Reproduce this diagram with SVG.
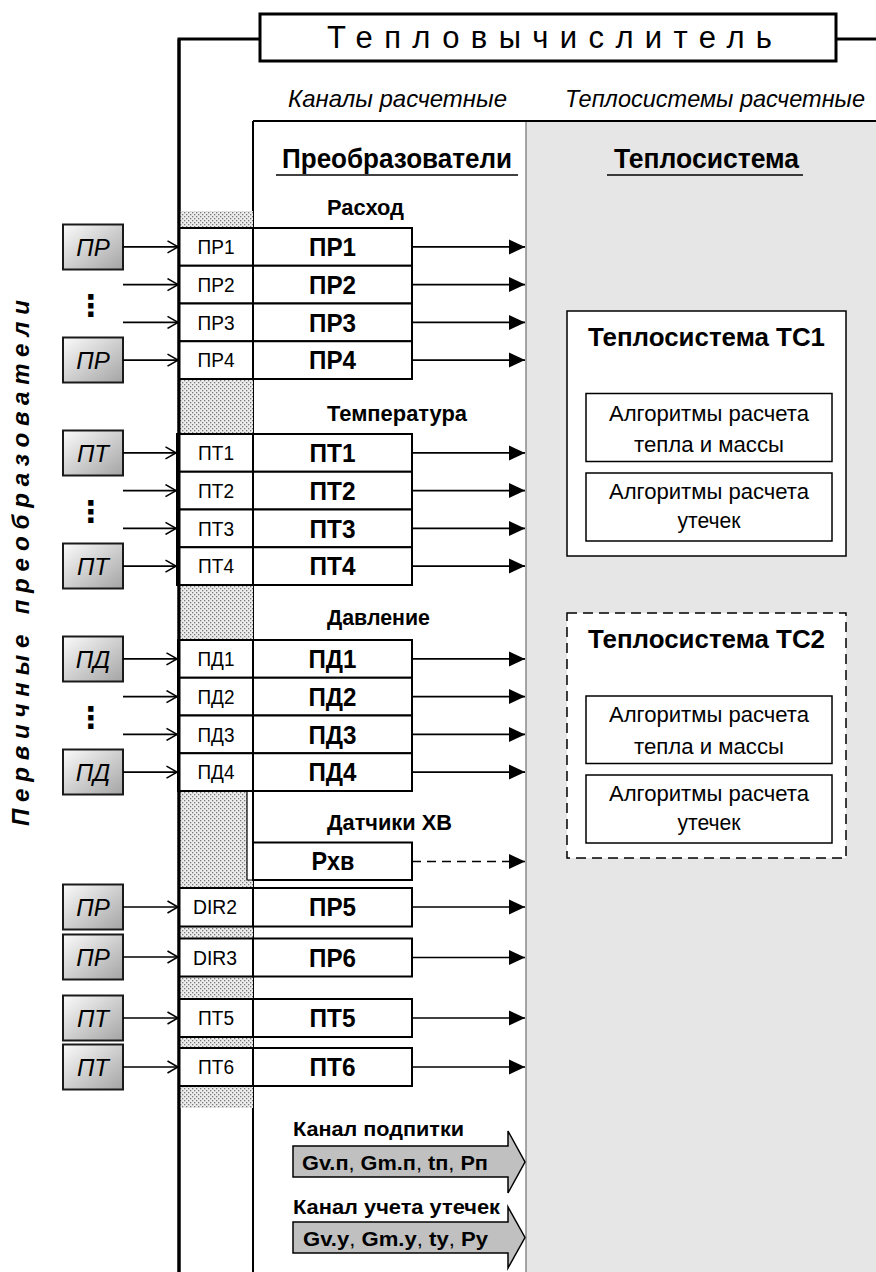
<svg xmlns="http://www.w3.org/2000/svg" width="876" height="1272" viewBox="0 0 876 1272">
<style>
text{font-family:"Liberation Sans",Arial,sans-serif;fill:#000}
.ttl{font-size:31px}
.it{font-style:italic;font-size:24px}
.hd{font-weight:bold;font-size:27px}
.sec{font-weight:bold;font-size:22px}
.big{font-weight:bold;font-size:25px}
.sm{font-size:20px}
.sen{font-style:italic;font-size:24px}
.tc{font-weight:bold;font-size:26px}
.alg{font-size:22px}
.ch{font-weight:bold;font-size:21px}
.chv{font-weight:bold;font-size:21px}
.vt{font-weight:bold;font-style:italic;font-size:24px}
.dots{font-family:"DejaVu Sans",sans-serif;font-weight:bold;font-size:30px}
.cell{fill:#fff;stroke:#000;stroke-width:2}
.bx{fill:#fff;stroke:#000;stroke-width:2}
.sbox{fill:url(#sg);stroke:#1a1a1a;stroke-width:2}
.hat{fill:url(#hp)}
.in{stroke:#000;stroke-width:1.6;fill:none;marker-end:url(#oa)}
.out{stroke:#000;stroke-width:1.6;fill:none;marker-end:url(#fa)}
.thin{fill:#fff;stroke:#000;stroke-width:1.5}
.garr{fill:#c0c0c0;stroke:#000;stroke-width:1.5}
</style>
<defs>
<linearGradient id="sg" x1="0" y1="0" x2="1" y2="1">
<stop offset="0" stop-color="#fbfbfb"/>
<stop offset="1" stop-color="#a4a4a4"/>
</linearGradient>
<pattern id="hp" width="4" height="4" patternUnits="userSpaceOnUse">
<rect width="4" height="4" fill="#ececec"/>
<rect x="0" y="0" width="1.3" height="1.3" fill="#7a7a7a"/>
<rect x="2" y="2" width="1.3" height="1.3" fill="#7a7a7a"/>
</pattern>
<marker id="oa" viewBox="0 0 12 14" refX="11.5" refY="7" markerWidth="12" markerHeight="14" markerUnits="userSpaceOnUse" orient="auto">
<path d="M1,1 L11.5,7 L1,13" fill="none" stroke="#000" stroke-width="1.6"/>
</marker>
<marker id="fa" viewBox="0 0 16 16" refX="16" refY="8" markerWidth="16" markerHeight="16" markerUnits="userSpaceOnUse" orient="auto">
<path d="M0,0.5 L16,8 L0,15.5 Z" fill="#000"/>
</marker>
</defs>

<g id="frame">
<rect x="526" y="121" width="350" height="1151" fill="#e6e6e6"/>
<line x1="526" y1="121" x2="526" y2="1272" stroke="#8a8a8a" stroke-width="1.5"/>
<line x1="253" y1="121" x2="876" y2="121" stroke="#000" stroke-width="2"/>
<line x1="253" y1="121" x2="253" y2="1272" stroke="#000" stroke-width="2"/>
<polyline points="179,1272 179,39 260,39" fill="none" stroke="#000" stroke-width="3"/>
<line x1="836" y1="39" x2="876" y2="39" stroke="#000" stroke-width="3"/>
</g>

<g id="title">
<rect x="260" y="14" width="576" height="47" fill="#fff" stroke="#000" stroke-width="3"/>
<text class="ttl" x="327" y="48" textLength="445" lengthAdjust="spacing">Тепловычислитель</text>
</g>

<g id="headers">
<text class="it" x="288" y="107" textLength="219" lengthAdjust="spacingAndGlyphs">Каналы расчетные</text>
<text class="it" x="565" y="107" textLength="300" lengthAdjust="spacingAndGlyphs">Теплосистемы расчетные</text>
<text class="hd" x="282" y="168" textLength="230" lengthAdjust="spacingAndGlyphs">Преобразователи</text>
<line x1="276" y1="175" x2="518" y2="175" stroke="#000" stroke-width="1.5"/>
<text class="hd" x="614" y="168" textLength="185" lengthAdjust="spacingAndGlyphs">Теплосистема</text>
<line x1="607" y1="175" x2="803" y2="175" stroke="#000" stroke-width="1.5"/>
<text class="vt" transform="translate(29,563) rotate(-90)" x="0" y="0" text-anchor="middle" textLength="526" lengthAdjust="spacing">Первичные преобразователи</text>
</g>

<g id="hatches">
<rect class="hat" x="180" y="211" width="73" height="17"/>
<rect class="hat" x="180" y="379" width="73" height="55"/>
<rect class="hat" x="180" y="585" width="73" height="55"/>
<rect class="hat" x="180" y="791" width="67" height="89"/>
<rect class="hat" x="180" y="880" width="73" height="8"/>
<polyline points="247,791 247,880 253,880" fill="none" stroke="#000" stroke-width="1.2"/>
<rect class="hat" x="180" y="926" width="73" height="12.5"/>
<rect class="hat" x="180" y="976.5" width="73" height="22.5"/>
<rect class="hat" x="180" y="1037" width="73" height="11"/>
<rect class="hat" x="180" y="1086" width="73" height="22"/>
</g>

<g id="sections">
<text class="sec" x="327" y="215" textLength="77" lengthAdjust="spacingAndGlyphs">Расход</text>
<text class="sec" x="327" y="421" textLength="140" lengthAdjust="spacingAndGlyphs">Температура</text>
<text class="sec" x="327" y="625" textLength="103" lengthAdjust="spacingAndGlyphs">Давление</text>
<text class="sec" x="327" y="830" textLength="125" lengthAdjust="spacingAndGlyphs">Датчики ХВ</text>
</g>

<g id="sensors">
<g id="s-pr1"><rect class="sbox" x="63" y="224.5" width="60" height="45"/><text class="sen" x="93" y="255.5" text-anchor="middle">ПР</text></g>
<g id="s-pr4"><rect class="sbox" x="63" y="337.5" width="60" height="45"/><text class="sen" x="93" y="368.5" text-anchor="middle">ПР</text></g>
<text id="dots-pr" class="dots" x="91" y="316" text-anchor="middle">⋮</text>
<g id="s-pt1"><rect class="sbox" x="63" y="430.5" width="60" height="45"/><text class="sen" x="93" y="461.5" text-anchor="middle">ПТ</text></g>
<g id="s-pt4"><rect class="sbox" x="63" y="543.5" width="60" height="45"/><text class="sen" x="93" y="574.5" text-anchor="middle">ПТ</text></g>
<text id="dots-pt" class="dots" x="91" y="522" text-anchor="middle">⋮</text>
<g id="s-pd1"><rect class="sbox" x="63" y="636.5" width="60" height="45"/><text class="sen" x="93" y="667.5" text-anchor="middle">ПД</text></g>
<g id="s-pd4"><rect class="sbox" x="63" y="749.5" width="60" height="45"/><text class="sen" x="93" y="780.5" text-anchor="middle">ПД</text></g>
<text id="dots-pd" class="dots" x="91" y="728" text-anchor="middle">⋮</text>
<g id="s-pr5"><rect class="sbox" x="63" y="884.5" width="60" height="45"/><text class="sen" x="93" y="915.5" text-anchor="middle">ПР</text></g>
<g id="s-pr6"><rect class="sbox" x="63" y="934.5" width="60" height="45"/><text class="sen" x="93" y="965.5" text-anchor="middle">ПР</text></g>
<g id="s-pt5"><rect class="sbox" x="63" y="995.5" width="60" height="45"/><text class="sen" x="93" y="1026.5" text-anchor="middle">ПТ</text></g>
<g id="s-pt6"><rect class="sbox" x="63" y="1044.5" width="60" height="45"/><text class="sen" x="93" y="1075.5" text-anchor="middle">ПТ</text></g>
</g>

<g id="channels">
<g id="ch-pr1"><rect class="cell" x="179" y="228" width="74" height="37.75"/><text class="sm" x="216" y="254" text-anchor="middle" textLength="37" lengthAdjust="spacingAndGlyphs">ПР1</text><rect class="bx" x="253" y="228" width="159" height="37.75"/><text class="big" x="332.5" y="256" text-anchor="middle" textLength="47" lengthAdjust="spacingAndGlyphs">ПР1</text></g>
<g id="ch-pr2"><rect class="cell" x="179" y="265.75" width="74" height="37.75"/><text class="sm" x="216" y="291.5" text-anchor="middle" textLength="37" lengthAdjust="spacingAndGlyphs">ПР2</text><rect class="bx" x="253" y="265.75" width="159" height="37.75"/><text class="big" x="332.5" y="293.5" text-anchor="middle" textLength="47" lengthAdjust="spacingAndGlyphs">ПР2</text></g>
<g id="ch-pr3"><rect class="cell" x="179" y="303.5" width="74" height="37.75"/><text class="sm" x="216" y="329.5" text-anchor="middle" textLength="37" lengthAdjust="spacingAndGlyphs">ПР3</text><rect class="bx" x="253" y="303.5" width="159" height="37.75"/><text class="big" x="332.5" y="331.5" text-anchor="middle" textLength="47" lengthAdjust="spacingAndGlyphs">ПР3</text></g>
<g id="ch-pr4"><rect class="cell" x="179" y="341.25" width="74" height="37.75"/><text class="sm" x="216" y="367" text-anchor="middle" textLength="37" lengthAdjust="spacingAndGlyphs">ПР4</text><rect class="bx" x="253" y="341.25" width="159" height="37.75"/><text class="big" x="332.5" y="369" text-anchor="middle" textLength="47" lengthAdjust="spacingAndGlyphs">ПР4</text></g>

<g id="ch-pt1"><rect class="cell" x="177" y="434" width="76" height="37.75"/><text class="sm" x="216" y="460" text-anchor="middle" textLength="36" lengthAdjust="spacingAndGlyphs">ПТ1</text><rect class="bx" x="253" y="434" width="159" height="37.75"/><text class="big" x="332.5" y="462" text-anchor="middle" textLength="46" lengthAdjust="spacingAndGlyphs">ПТ1</text></g>
<g id="ch-pt2"><rect class="cell" x="177" y="471.75" width="76" height="37.75"/><text class="sm" x="216" y="497.5" text-anchor="middle" textLength="36" lengthAdjust="spacingAndGlyphs">ПТ2</text><rect class="bx" x="253" y="471.75" width="159" height="37.75"/><text class="big" x="332.5" y="499.5" text-anchor="middle" textLength="46" lengthAdjust="spacingAndGlyphs">ПТ2</text></g>
<g id="ch-pt3"><rect class="cell" x="177" y="509.5" width="76" height="37.75"/><text class="sm" x="216" y="535.5" text-anchor="middle" textLength="36" lengthAdjust="spacingAndGlyphs">ПТ3</text><rect class="bx" x="253" y="509.5" width="159" height="37.75"/><text class="big" x="332.5" y="537.5" text-anchor="middle" textLength="46" lengthAdjust="spacingAndGlyphs">ПТ3</text></g>
<g id="ch-pt4"><rect class="cell" x="177" y="547.25" width="76" height="37.75"/><text class="sm" x="216" y="573" text-anchor="middle" textLength="36" lengthAdjust="spacingAndGlyphs">ПТ4</text><rect class="bx" x="253" y="547.25" width="159" height="37.75"/><text class="big" x="332.5" y="575" text-anchor="middle" textLength="46" lengthAdjust="spacingAndGlyphs">ПТ4</text></g>

<g id="ch-pd1"><rect class="cell" x="178" y="640" width="75" height="37.75"/><text class="sm" x="216" y="666" text-anchor="middle" textLength="37" lengthAdjust="spacingAndGlyphs">ПД1</text><rect class="bx" x="253" y="640" width="159" height="37.75"/><text class="big" x="332.5" y="668" text-anchor="middle" textLength="48" lengthAdjust="spacingAndGlyphs">ПД1</text></g>
<g id="ch-pd2"><rect class="cell" x="178" y="677.75" width="75" height="37.75"/><text class="sm" x="216" y="703.5" text-anchor="middle" textLength="37" lengthAdjust="spacingAndGlyphs">ПД2</text><rect class="bx" x="253" y="677.75" width="159" height="37.75"/><text class="big" x="332.5" y="705.5" text-anchor="middle" textLength="48" lengthAdjust="spacingAndGlyphs">ПД2</text></g>
<g id="ch-pd3"><rect class="cell" x="178" y="715.5" width="75" height="37.75"/><text class="sm" x="216" y="741.5" text-anchor="middle" textLength="37" lengthAdjust="spacingAndGlyphs">ПД3</text><rect class="bx" x="253" y="715.5" width="159" height="37.75"/><text class="big" x="332.5" y="743.5" text-anchor="middle" textLength="48" lengthAdjust="spacingAndGlyphs">ПД3</text></g>
<g id="ch-pd4"><rect class="cell" x="178" y="753.25" width="75" height="37.75"/><text class="sm" x="216" y="779" text-anchor="middle" textLength="37" lengthAdjust="spacingAndGlyphs">ПД4</text><rect class="bx" x="253" y="753.25" width="159" height="37.75"/><text class="big" x="332.5" y="781" text-anchor="middle" textLength="48" lengthAdjust="spacingAndGlyphs">ПД4</text></g>

<g id="ch-rxv"><rect class="bx" x="253" y="842.5" width="159" height="37.5"/><text class="big" x="333" y="870" text-anchor="middle" textLength="43" lengthAdjust="spacingAndGlyphs">Рхв</text></g>
<g id="ch-dir2"><rect class="cell" x="179" y="888" width="74" height="38.5"/><text class="sm" x="215" y="914" text-anchor="middle" textLength="44" lengthAdjust="spacingAndGlyphs">DIR2</text><rect class="bx" x="253" y="888" width="159" height="38.5"/><text class="big" x="332.5" y="916" text-anchor="middle" textLength="47" lengthAdjust="spacingAndGlyphs">ПР5</text></g>
<g id="ch-dir3"><rect class="cell" x="179" y="938.5" width="74" height="38"/><text class="sm" x="215" y="964.5" text-anchor="middle" textLength="44" lengthAdjust="spacingAndGlyphs">DIR3</text><rect class="bx" x="253" y="938.5" width="159" height="38"/><text class="big" x="332.5" y="966.5" text-anchor="middle" textLength="47" lengthAdjust="spacingAndGlyphs">ПР6</text></g>
<g id="ch-pt5"><rect class="cell" x="179" y="999" width="74" height="38"/><text class="sm" x="216" y="1025" text-anchor="middle" textLength="36" lengthAdjust="spacingAndGlyphs">ПТ5</text><rect class="bx" x="253" y="999" width="159" height="38"/><text class="big" x="332.5" y="1027" text-anchor="middle" textLength="46" lengthAdjust="spacingAndGlyphs">ПТ5</text></g>
<g id="ch-pt6"><rect class="cell" x="179" y="1048" width="74" height="38"/><text class="sm" x="216" y="1074" text-anchor="middle" textLength="36" lengthAdjust="spacingAndGlyphs">ПТ6</text><rect class="bx" x="253" y="1048" width="159" height="38"/><text class="big" x="332.5" y="1076" text-anchor="middle" textLength="46" lengthAdjust="spacingAndGlyphs">ПТ6</text></g>
</g>

<line id="frame-left" x1="179" y1="39" x2="179" y2="1272" stroke="#000" stroke-width="3"/>

<g id="tc1">
<rect class="thin" x="567" y="311" width="279" height="245"/>
<text class="tc" x="706.5" y="346" text-anchor="middle" textLength="237" lengthAdjust="spacingAndGlyphs">Теплосистема ТС1</text>
<rect class="thin" x="586" y="393.5" width="246" height="68"/>
<text class="alg" x="709" y="421" text-anchor="middle" textLength="200" lengthAdjust="spacingAndGlyphs">Алгоритмы расчета</text>
<text class="alg" x="709" y="452" text-anchor="middle" textLength="150" lengthAdjust="spacingAndGlyphs">тепла и массы</text>
<rect class="thin" x="586" y="473" width="246" height="68"/>
<text class="alg" x="709" y="499" text-anchor="middle" textLength="200" lengthAdjust="spacingAndGlyphs">Алгоритмы расчета</text>
<text class="alg" x="709" y="528" text-anchor="middle" textLength="63" lengthAdjust="spacingAndGlyphs">утечек</text>
</g>
<g id="tc2">
<rect x="567" y="613" width="279" height="245" fill="#fff" stroke="#000" stroke-width="1.5" stroke-dasharray="10,6"/>
<text class="tc" x="706.5" y="648" text-anchor="middle" textLength="237" lengthAdjust="spacingAndGlyphs">Теплосистема ТС2</text>
<rect class="thin" x="586" y="696" width="246" height="67.5"/>
<text class="alg" x="709" y="722" text-anchor="middle" textLength="200" lengthAdjust="spacingAndGlyphs">Алгоритмы расчета</text>
<text class="alg" x="709" y="754" text-anchor="middle" textLength="150" lengthAdjust="spacingAndGlyphs">тепла и массы</text>
<rect class="thin" x="586" y="775" width="246" height="68"/>
<text class="alg" x="709" y="801" text-anchor="middle" textLength="200" lengthAdjust="spacingAndGlyphs">Алгоритмы расчета</text>
<text class="alg" x="709" y="830" text-anchor="middle" textLength="63" lengthAdjust="spacingAndGlyphs">утечек</text>
</g>

<g id="connectors">
<line class="in" x1="123" y1="246.9" x2="178" y2="246.9"/>
<line class="in" x1="123" y1="284.6" x2="178" y2="284.6"/>
<line class="in" x1="123" y1="322.4" x2="178" y2="322.4"/>
<line class="in" x1="123" y1="360.1" x2="178" y2="360.1"/>
<line class="in" x1="123" y1="452.9" x2="176" y2="452.9"/>
<line class="in" x1="123" y1="490.6" x2="176" y2="490.6"/>
<line class="in" x1="123" y1="528.4" x2="176" y2="528.4"/>
<line class="in" x1="123" y1="566.1" x2="176" y2="566.1"/>
<line class="in" x1="123" y1="658.9" x2="177" y2="658.9"/>
<line class="in" x1="123" y1="696.6" x2="177" y2="696.6"/>
<line class="in" x1="123" y1="734.4" x2="177" y2="734.4"/>
<line class="in" x1="123" y1="772.1" x2="177" y2="772.1"/>
<line class="in" x1="123" y1="907" x2="178" y2="907"/>
<line class="in" x1="123" y1="957" x2="178" y2="957"/>
<line class="in" x1="123" y1="1018" x2="178" y2="1018"/>
<line class="in" x1="123" y1="1067" x2="178" y2="1067"/>

<line class="out" x1="412" y1="246.9" x2="525" y2="246.9"/>
<line class="out" x1="412" y1="284.6" x2="525" y2="284.6"/>
<line class="out" x1="412" y1="322.4" x2="525" y2="322.4"/>
<line class="out" x1="412" y1="360.1" x2="525" y2="360.1"/>
<line class="out" x1="412" y1="452.9" x2="525" y2="452.9"/>
<line class="out" x1="412" y1="490.6" x2="525" y2="490.6"/>
<line class="out" x1="412" y1="528.4" x2="525" y2="528.4"/>
<line class="out" x1="412" y1="566.1" x2="525" y2="566.1"/>
<line class="out" x1="412" y1="658.9" x2="525" y2="658.9"/>
<line class="out" x1="412" y1="696.6" x2="525" y2="696.6"/>
<line class="out" x1="412" y1="734.4" x2="525" y2="734.4"/>
<line class="out" x1="412" y1="772.1" x2="525" y2="772.1"/>
<line class="out" x1="412" y1="861.5" x2="525" y2="861.5" stroke-dasharray="9,6"/>
<line class="out" x1="412" y1="907" x2="525" y2="907"/>
<line class="out" x1="412" y1="957.5" x2="525" y2="957.5"/>
<line class="out" x1="412" y1="1018" x2="525" y2="1018"/>
<line class="out" x1="412" y1="1067" x2="525" y2="1067"/>
</g>

<g id="makeup">
<polygon class="garr" points="293,1146 508,1146 508,1131 525,1162 508,1193 508,1177 293,1177"/>
<text class="ch" x="293" y="1136" textLength="171" lengthAdjust="spacingAndGlyphs">Канал подпитки</text>
<text class="chv" x="302" y="1170" textLength="186" lengthAdjust="spacingAndGlyphs">Gv.п<tspan font-weight="normal">, </tspan>Gm.п<tspan font-weight="normal">, </tspan>tп<tspan font-weight="normal">, </tspan>Pп</text>
</g>
<g id="leak">
<polygon class="garr" points="293,1222 508,1222 508,1207 525,1237.5 508,1268 508,1253 293,1253"/>
<text class="ch" x="293" y="1214" textLength="207" lengthAdjust="spacingAndGlyphs">Канал учета утечек</text>
<text class="chv" x="303" y="1246" textLength="185" lengthAdjust="spacingAndGlyphs">Gv.у<tspan font-weight="normal">, </tspan>Gm.у<tspan font-weight="normal">, </tspan>tу<tspan font-weight="normal">, </tspan>Pу</text>
</g>
</svg>
